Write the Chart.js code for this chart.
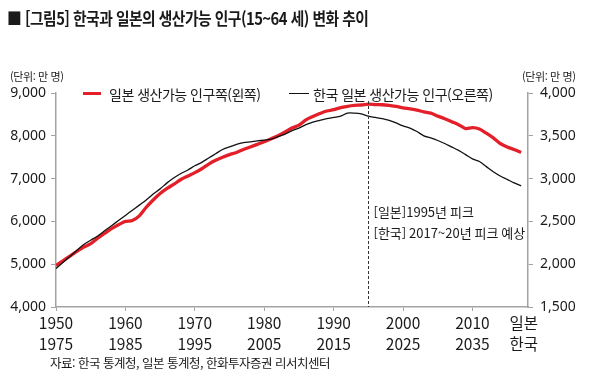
<!DOCTYPE html>
<html lang="ko">
<head>
<meta charset="utf-8">
<script src="https://cdn.jsdelivr.net/npm/chart.js@4/dist/chart.umd.min.js"></script>
<style>
    body { margin: 0; background: #fff; }
    #wrap { position: relative; width: 597px; height: 382px; overflow: hidden;
            font-family: "Noto Sans CJK KR", "Noto Sans", sans-serif; color: #1a1a1a; }
    #chart { position: absolute; left: 0; top: 0; }
    .txt { position: absolute; white-space: nowrap; }
    #title { left: 7px; top: 5px; font-size: 17px; font-weight: bold; letter-spacing: -0.6px;
             transform: scaleX(0.87); transform-origin: left center; }
    .unit { top: 68px; font-size: 11px; letter-spacing: -0.4px; }
    .leg { top: 84px; font-size: 14px; letter-spacing: -0.5px; }
    .sw { position: absolute; height: 0; }
    #source { left: 50px; top: 353px; font-size: 12.5px; letter-spacing: -0.5px; }
</style>
</head>
<body>
<div id="wrap">
    <canvas id="chart" width="597" height="382"></canvas>
    <div class="txt" id="title">■ [그림5] 한국과 일본의 생산가능 인구(15~64 세) 변화 추이</div>
    <div class="txt unit" style="left:10px">(단위: 만 명)</div>
    <div class="txt unit" style="left:522px">(단위: 만 명)</div>
    <div class="sw" style="left:83px; top:92px; width:18px; border-top:3.5px solid #e3202a"></div>
    <div class="txt leg" style="left:109px">일본 생산가능 인구쪽(왼쪽)</div>
    <div class="sw" style="left:289px; top:93px; width:20px; border-top:1.3px solid #111"></div>
    <div class="txt leg" style="left:313px">한국 일본 생산가능 인구(오른쪽)</div>
    <div class="txt" id="source">자료: 한국 통계청, 일본 통계청, 한화투자증권 리서치센터</div>
</div>
<script>
// Years on the axis (Japan); Korea is shifted by 25 years
const years = [];
for (let y = 1950; y <= 2017; y++) years.push(y);

// Japan working-age population, left axis (만 명), 1950-2017
const japanPop = [
    4970, 5080, 5190, 5300, 5400, 5480, 5610, 5720, 5830, 5920,
    6000, 6020, 6130, 6330, 6500, 6650, 6770, 6870, 6980, 7060,
    7140, 7230, 7340, 7430, 7500, 7560, 7610, 7680, 7740, 7800,
    7860, 7930, 8000, 8090, 8180, 8250, 8370, 8450, 8520, 8580,
    8610, 8660, 8690, 8710, 8720, 8740, 8730, 8725, 8710, 8690,
    8650, 8630, 8600, 8560, 8530, 8460, 8400, 8330, 8260, 8170,
    8190, 8160, 8060, 7950, 7820, 7740, 7680, 7610
];

// Korea working-age population, right axis (만 명), 1975-2042
const koreaPop = [
    1950, 2020, 2090, 2160, 2230, 2280, 2330, 2390, 2450, 2510,
    2570, 2630, 2690, 2750, 2820, 2880, 2950, 3010, 3060, 3100,
    3150, 3190, 3240, 3290, 3340, 3370, 3400, 3420, 3430, 3440,
    3450, 3460, 3490, 3520, 3560, 3590, 3630, 3660, 3680, 3700,
    3715, 3730, 3765, 3765, 3755, 3730, 3715, 3700, 3680, 3650,
    3615, 3590, 3550, 3500, 3475, 3445, 3410, 3370, 3330, 3280,
    3230, 3200, 3140, 3080, 3030, 2990, 2950, 2915
];

// x tick labels: Japan year on top, Korea year below
const tickYears = [1950, 1960, 1970, 1980, 1990, 2000, 2010];
const koreaShift = 25;
const endLabel = ['일본', '한국'];
const endLabelPos = 2017.4;

const peakYear = 1995;
const peakNotes = ['[일본]1995년 피크', '[한국] 2017~20년 피크 예상'];

const axisGray = '#a3a3a3';
const tickFont = { family: '"Liberation Sans Narrow", "Noto Sans", sans-serif', size: 14 };

// dashed peak line + notes
const peakPlugin = {
    id: 'peakLine',
    afterDatasetsDraw(chart) {
        const { ctx, chartArea, scales } = chart;
        const x = Math.round(scales.x.getPixelForValue(peakYear)) + 0.5;
        ctx.save();
        ctx.strokeStyle = '#333';
        ctx.lineWidth = 1;
        ctx.setLineDash([3, 2]);
        ctx.beginPath();
        ctx.moveTo(x, chartArea.top + 8);
        ctx.lineTo(x, chartArea.bottom);
        ctx.stroke();
        ctx.setLineDash([]);
        ctx.fillStyle = '#1a1a1a';
        ctx.font = '13px "Noto Sans CJK KR", sans-serif';
        ctx.textBaseline = 'middle';
        ctx.fillText(peakNotes[0], x + 5, 212);
        ctx.fillText(peakNotes[1], x + 5, 233);
        ctx.restore();
    }
};

new Chart(document.getElementById('chart'), {
    type: 'line',
    data: {
        datasets: [
            {
                label: '일본 생산가능 인구쪽(왼쪽)',
                data: years.map((y, i) => ({ x: y, y: japanPop[i] })),
                yAxisID: 'y',
                borderColor: '#e3202a',
                borderWidth: 3.3,
                pointRadius: 0,
                tension: 0.3,
                order: 2
            },
            {
                label: '한국 일본 생산가능 인구(오른쪽)',
                data: years.map((y, i) => ({ x: y, y: koreaPop[i] })),
                yAxisID: 'y2',
                borderColor: '#111',
                borderWidth: 1.3,
                pointRadius: 0,
                tension: 0.3,
                order: 1
            }
        ]
    },
    options: {
        responsive: false,
        animation: false,
        locale: 'en-US',
        layout: { padding: { top: 93, left: 0, right: 0, bottom: 0 } },
        plugins: {
            legend: { display: false },
            tooltip: { enabled: false }
        },
        scales: {
            x: {
                type: 'linear',
                min: 1950,
                max: 2018,
                afterBuildTicks(scale) {
                    scale.ticks = tickYears.map(v => ({ value: v })).concat([{ value: endLabelPos }]);
                },
                afterFit(scale) { scale.height = 75; },
                ticks: {
                    autoSkip: false,
                    maxRotation: 0,
                    padding: 1,
                    color: '#1a1a1a',
                    font: { family: '"Liberation Sans Narrow", "Noto Sans CJK KR", sans-serif', size: 15.5, lineHeight: 1.4 },
                    callback(value) {
                        if (value > 2015) return endLabel;
                        return [String(value), String(value + koreaShift)];
                    }
                },
                grid: {
                    drawOnChartArea: false,
                    tickLength: 4,
                    color: axisGray,
                    tickColor: ctx => (ctx.tick && ctx.tick.value > 2015) ? 'rgba(0,0,0,0)' : axisGray
                },
                border: { color: axisGray, width: 1.5 }
            },
            y: {
                position: 'left',
                min: 4000,
                max: 9000,
                afterFit(scale) { scale.width = 56; },
                ticks: { stepSize: 1000, color: '#1a1a1a', font: tickFont, padding: 5 },
                grid: { drawOnChartArea: false, tickLength: 5, color: axisGray },
                border: { color: axisGray, width: 1.5 }
            },
            y2: {
                position: 'right',
                min: 1500,
                max: 4000,
                afterFit(scale) { scale.width = 69; },
                ticks: { stepSize: 500, color: '#1a1a1a', font: tickFont, padding: 7 },
                grid: { drawOnChartArea: false, tickLength: 5, color: axisGray },
                border: { color: axisGray, width: 1.5 }
            }
        }
    },
    plugins: [peakPlugin]
});
</script>
</body>
</html>
